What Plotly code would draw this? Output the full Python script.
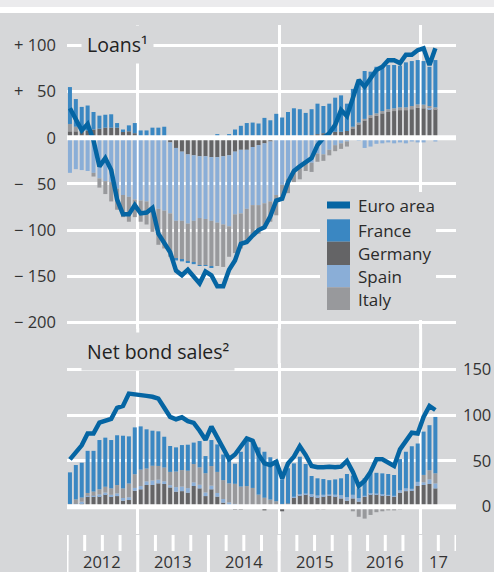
import plotly.graph_objects as go

# ---------------- data (monthly, Jan 2012 - Mar 2017) ----------------
months = [f"{y}-{m:02d}" for y in range(2012, 2018) for m in range(1, 13)][:63]

# Loans (top panel)
loans_germany = [7, 7, 7.5, 8, 9, 10, 11, 11, 11, 7, 7, 5, 0.5, 0.5, 0.5, 0.5, 0.5,
                 -5, -11, -15, -18, -19, -20, -20, -21, -21, -20, -19, -15, -13, -13,
                 -10, -8, -6, -4, -2, -1, 0, 0.5, 1, 2, 3, 4, 5, 5, 6.5, 6.5, 7.4,
                 10, 14.5, 18.5, 22, 24, 26.5, 28, 29, 30, 30, 31, 32.7, 32, 31, 31]
loans_spain = [-38, -34, -35, -36, -38, -44, -47, -48, -55, -62, -64, -67, -68, -69, -75,
               -77, -79, -77, -79, -75, -75, -71, -67, -68, -69, -71, -74, -77, -68,
               -69, -64, -63, -65, -65, -65, -60, -50, -44, -36, -33, -26, -27, -17,
               -18, -13, -8, -6, -4, -1, -3, -11, -9.5, -6.5, -6, -5, -6, -5, -6, -4,
               -5, -5, 2, -4]
loans_italy = [8, 5, 0, 0, -4, -10, -14, -21, -23, -24, -27, -19, -23, -25, -27, -39,
               -41, -47, -41, -42, -41, -45, -51, -50, -49, -47, -46, -33, -42, -38,
               -36, -33, -31, -27, -22, -22, -17, -16, -12, -12, -10, -10, -9, -7, -6,
               -6.5, -6, -5.5, 2, 2, 2, 2.5, 2.5, 2.5, 3, 3, 3, 3, 3.5, 3.5, 4, 1.5, 2]
loans_france = [40, 30, 26, 27, 19, 14, 14, 14.5, 5, 2, 6.5, 11, 7.5, 7.5, 10.5, 10.5,
                11.5, 0, -2, -2, -1, -2, -1, -1, -2, 4, 1, 4, 9, 13, 16, 16.5, 15.5,
                21.6, 19, 26, 22, 28, 31.5, 30, 25, 28, 33, 29.5, 32, 37, 39.5, 29.6,
                41, 45.1, 51.9, 47.2, 50.5, 48, 47.9, 46.9, 45.2, 48.8, 48.7, 48.1,
                47.2, 42.5, 51.3]
loans_euro = [32, 21, 8, 15, -3, -31, -22, -35, -67, -83, -83, -73, -82, -81, -76,
              -104, -115, -124, -144, -149, -143, -151, -158, -145, -149, -161, -161,
              -143, -133, -115, -113, -106, -100, -97, -85, -68, -66, -48, -36, -31,
              -27, -22, -8, 0, 5, 14, 30, 23.6, 43, 62.7, 55.4, 64.6, 73.5, 77, 84,
              84, 81, 90, 90, 95, 97, 79, 97]

# Net bond sales (bottom panel)
bond_germany = [1, 2, 4, 11, 11, 11.5, 13.5, 11, 11.6, 6.5, 7.3, 17.5, 19, 23.7, 23.7,
                25.5, 24.8, 21, 16.4, 17, 15.3, 22.6, 20, 11.6, 19, 11, 4.4, 1.8, -3,
                -3, 0.5, 0.5, 0.5, -4, 0.5, 0.5, -5, 2, 10, 12.7, 13.5, 11.6, 10.2, 11,
                12, 11.6, 9, 6.5, 9, 5.5, 11, 13.8, 13.5, 12.7, 12, 11, 15.3, 17, 17.5,
                22.6, 23.7, 24.8, 20]
bond_spain = [0.5, 1, 1.5, 1, 1, 2, 2, 2, 3, 3, 3, 3, 3.5, 4, 5, 4, 3, 2.5, 5, 5, 5, 4,
              4, 4, 4, 4, 4, 3, 3, 2, 1, 1, 1, 1, 1, 1, 1, 0.5, 1, 1, 1, 2, 2, 2, 1.5,
              1.5, 3.5, 4, 4, 4, 1, 1, 1, 1, 1, 1, 2.5, 3, 2, 4.5, 3, 5, 5.5]
bond_italy = [1.5, 5, 4.5, 3, 4.5, 5.5, 6.3, 7, 9, 10.5, 15, 15, 18, 14, 16, 15, 15,
              14.5, 17, 18, 19, 20, 19, 21, 21.4, 23, 20.6, 20.7, 22, 20, 21, 19, 11.7,
              8.8, 6.3, 4.5, 2, 1, 0, 0, 0, 0, -3, -3, 0, 0, 0, -2, -5, -11, -13, -9,
              -6, -5, -4, -4, -3, -2, -1, 0, 8, 10, 11]
bond_france = [34.5, 37.5, 38, 46, 44.5, 53.8, 53.6, 52.8, 54.4, 57.5, 51.5, 51.1, 47.2,
               42.8, 38.3, 37.8, 33.6, 28.3, 26.4, 27.3, 28.4, 23.4, 28.7, 18.7, 28.4,
               30, 28, 25.5, 22, 38, 50.3, 50.5, 51.6, 50.2, 46.2, 45, 27, 38.5, 36.3,
               40.9, 32.1, 19.9, 18.8, 17.2, 15.5, 16.7, 18.5, 25.2, 21, 10.5, 19, 21.6,
               22.5, 22.7, 22.7, 22.6, 34.2, 40, 46.5, 41.9, 47.3, 49.2, 61.5]
bond_euro = [51.7, 60, 67, 80, 80, 91.7, 93.6, 96, 108, 110, 123.5, 123, 122, 121, 120,
             118, 108, 98, 95.5, 97.6, 93.5, 91.5, 83, 73, 87.4, 75.7, 65.5, 52, 57, 66,
             74.6, 72, 57, 47.3, 45.5, 49, 31, 47.3, 54.6, 66, 56.4, 44.4, 43, 43, 43.7,
             43, 43.7, 49.9, 38, 22.6, 28.4, 38, 51.7, 51.7, 48, 44.4, 62.6, 72.8, 80.8,
             80, 98, 110, 105.6]

year_labels = ["2012", "2013", "2014", "2015", "2016", "17"]
loans_ticks = [-200, -150, -100, -50, 0, 50, 100]
loans_ticktext = ["\u2212 200", "\u2212 150", "\u2212 100", "\u2212 \u200750", "0",
                  "+ \u200750", "+ 100"]
bond_ticks = [0, 50, 100, 150]
bond_ticktext = ["\u2007\u20070", "\u200750", "100", "150"]

# ---------------- styling ----------------
BG = "#d6d7d9"
C_EURO = "#0565a3"
C_FR = "#3a87c2"
C_DE = "#646466"
C_ES = "#8aaed7"
C_IT = "#98999c"
TXT = "#2a2a2a"
FONT = "Open Sans"

W, H = 494, 572
L, R, T, B = 67, 38, 25, 38
PW, PH = W - L - R, H - T - B


def px2x(px):
    return (px - L) / PW


def px2y(py):
    return (H - B - py) / PH


xpos = list(range(len(months)))

fig = go.Figure()
for xa, ya, vals in [("x", "y", (loans_germany, loans_spain, loans_italy, loans_france)),
                     ("x2", "y2", (bond_germany, bond_spain, bond_italy, bond_france))]:
    for name, col, v in zip(["Germany", "Spain", "Italy", "France"],
                            [C_DE, C_ES, C_IT, C_FR], vals):
        fig.add_trace(go.Bar(x=xpos, y=v, name=name, marker=dict(color=col, line_width=0),
                             xaxis=xa, yaxis=ya, showlegend=False, hoverinfo="skip"))

fig.add_trace(go.Scatter(x=xpos, y=loans_euro, mode="lines", name="Euro area",
                         line=dict(color=C_EURO, width=4.5), xaxis="x", yaxis="y",
                         showlegend=False))
fig.add_trace(go.Scatter(x=xpos, y=bond_euro, mode="lines", name="Euro area",
                         line=dict(color=C_EURO, width=4.5), xaxis="x2", yaxis="y2",
                         showlegend=False))

xr = [-0.5, 65.5]
year_bounds = [-0.5 + 12 * k for k in range(6)]
quarter_bounds = [-0.5 + 3 * k for k in range(23)]
year_mids = [5.5, 17.5, 29.5, 41.5, 53.5, 62.5]
grid_x = [11.5, 35.5, 59.5]

top_dom = [px2y(329), 1]
bot_dom = [0, px2y(363)]

common_x = dict(range=xr, tickvals=grid_x, showgrid=True, gridcolor="white", gridwidth=3,
                showticklabels=False, ticks="", zeroline=False, showline=False,
                fixedrange=True, automargin=False)

fig.update_layout(
    width=W, height=H, margin=dict(l=L, r=R, t=T, b=B, autoexpand=False),
    paper_bgcolor=BG, plot_bgcolor=BG, barmode="relative", bargap=0.32,
    showlegend=False, font=dict(family=FONT, color=TXT, size=16),
    xaxis=dict(domain=[0, 1], anchor="y", **common_x),
    xaxis2=dict(domain=[0, 1], anchor="y2", **common_x),
    yaxis=dict(domain=top_dom, anchor="x", range=[-207.3, 122.3], tickvals=loans_ticks,
               ticktext=loans_ticktext, showgrid=True, gridcolor="white", gridwidth=3,
               zeroline=False, ticks="", ticklabelstandoff=10, fixedrange=True,
               automargin=False, tickfont=dict(size=16.5, color="#333333")),
    yaxis2=dict(domain=bot_dom, anchor="x2", side="right", range=[-29.8, 156.9],
                tickvals=bond_ticks, ticktext=bond_ticktext, showgrid=True,
                gridcolor="white", gridwidth=3, zeroline=False, ticks="", fixedrange=True,
                automargin=False, ticklabelstandoff=6,
                tickfont=dict(size=16.5, color="#333333")),
)

shapes = []
# top stripes
shapes.append(dict(type="rect", xref="paper", yref="paper", x0=-0.3, x1=1.3,
                   y0=px2y(13), y1=px2y(-2), fillcolor="white", line_width=0, layer="below"))
shapes.append(dict(type="rect", xref="paper", yref="paper", x0=-0.3, x1=1.3,
                   y0=px2y(7), y1=px2y(-2), fillcolor="#ebebed", line_width=0, layer="below"))
# zero lines above bars
for ya in ["y", "y2"]:
    shapes.append(dict(type="line", xref="paper", yref=ya, x0=0, x1=1, y0=0, y1=0,
                       line=dict(color="white", width=5), layer="above"))
# vertical gridlines through the gap between panels
for gx in grid_x:
    shapes.append(dict(type="line", xref="x", yref="paper", x0=gx, x1=gx,
                       y0=px2y(364), y1=px2y(328), line=dict(color="white", width=3),
                       layer="below"))
# x-axis ticks: quarterly short, yearly long
for q in quarter_bounds:
    shapes.append(dict(type="line", xref="x2", yref="paper", x0=q, x1=q,
                       y0=px2y(551), y1=px2y(535), line=dict(color="white", width=3),
                       layer="below"))
for yb in year_bounds:
    shapes.append(dict(type="line", xref="x2", yref="paper", x0=yb, x1=yb,
                       y0=px2y(575), y1=px2y(535), line=dict(color="white", width=3),
                       layer="below"))
# legend
shapes.append(dict(type="rect", xref="paper", yref="paper", x0=px2x(320), x1=px2x(436),
                   y0=px2y(320), y1=px2y(192), fillcolor=BG, line_width=0, layer="above"))
shapes.append(dict(type="rect", xref="paper", yref="paper", x0=px2x(327), x1=px2x(350),
                   y0=px2y(208.5), y1=px2y(201.5), fillcolor=C_EURO, line_width=0,
                   layer="above"))
sw = [(C_FR, 219.3, 241.7), (C_DE, 241.7, 265), (C_ES, 265, 287.3), (C_IT, 287.3, 310)]
for col, y0, y1 in sw:
    shapes.append(dict(type="rect", xref="paper", yref="paper", x0=px2x(327), x1=px2x(350),
                       y0=px2y(y1), y1=px2y(y0), fillcolor=col, line_width=0, layer="above"))
fig.update_layout(shapes=shapes)

ann = []
for txt, yc in [("Euro area", 205.5), ("France", 230.5), ("Germany", 253.5),
                ("Spain", 276.5), ("Italy", 299)]:
    ann.append(dict(text=txt, xref="paper", yref="paper", x=px2x(356), y=px2y(yc),
                    xanchor="left", yanchor="middle", showarrow=False,
                    font=dict(size=17, color=TXT)))
for lab, xm in zip(year_labels, year_mids):
    ann.append(dict(text=lab, xref="x2", yref="paper", x=xm, y=px2y(561),
                    xanchor="center", yanchor="middle", showarrow=False,
                    font=dict(size=16.5, color="#333333")))
ann.append(dict(text="Loans\u00b9", xref="paper", yref="paper", x=px2x(81),
                y=px2y(45), xanchor="left", yanchor="middle", showarrow=False, bgcolor=BG,
                borderpad=5, font=dict(size=19.5, color="#222222")))
ann.append(dict(text="Net bond sales\u00b2", xref="paper", yref="paper", x=px2x(81),
                y=px2y(351), xanchor="left", yanchor="middle", showarrow=False, bgcolor=BG,
                borderpad=5, font=dict(size=19.5, color="#222222")))
fig.update_layout(annotations=ann)

fig.write_html("out.html", config={"displayModeBar": False})
with open("out.html", encoding="utf-8") as f:
    html = f.read()
html = html.replace("<head>", "<head><style>html,body{margin:0;padding:0;overflow:hidden;}</style>", 1)
with open("out.html", "w", encoding="utf-8") as f:
    f.write(html)
